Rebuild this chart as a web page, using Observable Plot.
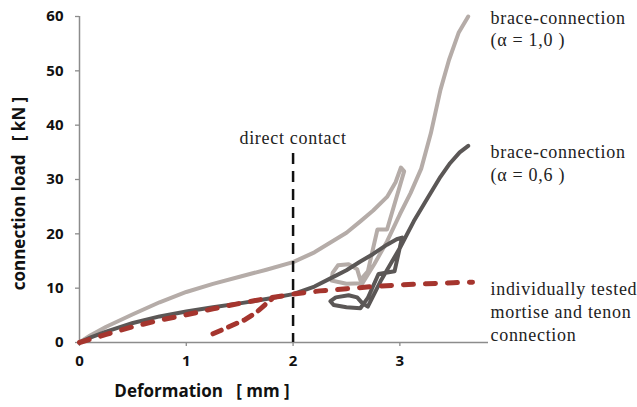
<!DOCTYPE html>
<html>
<head>
<meta charset="utf-8">
<script src="https://cdn.jsdelivr.net/npm/d3@7"></script>
<script src="https://cdn.jsdelivr.net/npm/@observablehq/plot@0.6"></script>
<style>
  html, body { margin: 0; padding: 0; background: #fff; }
  #chart svg { display: block; }
  g[font-family^="Liberation Serif"] text { letter-spacing: 0.7px; }
</style>
</head>
<body>
<div id="chart"></div>
<script>
// ---- data ----
// brace-connection (alpha = 1,0) — light grey
const lightX = [0, 0.1, 0.25, 0.5, 0.75, 1, 1.25, 1.5, 1.75, 2, 2.2, 2.35, 2.5, 2.63, 2.75, 2.88, 2.96, 3.01, 3.04,
  2.88, 2.79, 2.7, 2.63, 2.6, 2.52, 2.42, 2.37, 2.36, 2.5, 2.65,
  2.76, 2.88, 3.0, 3.1, 3.2, 3.29, 3.38, 3.46, 3.55, 3.64];
const lightY = [0, 1.3, 2.9, 5.2, 7.4, 9.3, 10.8, 12.1, 13.4, 14.8, 16.6, 18.4, 20.2, 22.3, 24.3, 26.8, 29.5, 32.2, 31.5,
  20.8, 20.8, 13.1, 11.5, 13.5, 14.4, 14.2, 12.8, 11.4, 10.8, 10.9,
  14.4, 18.6, 23.6, 27.5, 32.0, 38.5, 46.5, 52.0, 57.0, 60.0];

// brace-connection (alpha = 0,6) — dark grey
const darkX = [0, 0.1, 0.25, 0.5, 0.75, 1, 1.25, 1.5, 1.75, 2, 2.2, 2.35, 2.5, 2.63, 2.75, 2.88, 2.97, 3.02,
  3.0, 2.95, 2.8, 2.7, 2.63, 2.5, 2.38, 2.35, 2.4, 2.52, 2.6, 2.65, 2.7,
  2.82, 3.0, 3.13, 3.26, 3.38, 3.47, 3.56, 3.64];
const darkY = [0, 0.9, 2.0, 3.6, 4.8, 5.7, 6.5, 7.2, 8.0, 8.9, 10.3, 11.8, 13.3, 14.9, 16.3, 18.0, 19.0, 19.3,
  17.5, 13.1, 12.6, 8.2, 6.3, 6.5, 6.9, 7.6, 8.3, 8.7, 8.3, 7.2, 6.6,
  11.3, 17.4, 22.3, 26.6, 30.5, 33.0, 35.0, 36.2];

// individually tested mortise and tenon connection — red dashed
const redX = [0, 0.25, 0.5, 0.75, 1, 1.25, 1.5, 1.75, 2, 2.25, 2.5, 2.75, 3, 3.25, 3.5, 3.68];
const redY = [0, 1.5, 2.9, 4.1, 5.1, 6.2, 7.2, 8.1, 8.9, 9.5, 9.9, 10.3, 10.6, 10.8, 11.0, 11.1];
const red2X = [1.25, 1.4, 1.55, 1.66, 1.74, 1.8];
const red2Y = [1.6, 2.9, 4.2, 5.6, 7.0, 8.0];

// axes
const xTicks = [0, 1, 2, 3];
const yTicks = [0, 10, 20, 30, 40, 50, 60];
const xDomain = [0, 3.83];
const yDomain = [0, 60];

// annotations
const contactX = 2;
const contactTop = 34.8;
const contactText = "direct contact";
const labelTexts = [
  "brace-connection\n(α = 1,0 )",
  "brace-connection\n(α = 0,6 )",
  "individually tested\nmortise and tenon\nconnection"
];
const xTitle = "Deformation\u00a0\u00a0\u00a0[ mm ]";
const yTitle = "connection load\u00a0\u00a0\u00a0[ kN ]";

// ---- build ----
const pts = (xs, ys) => xs.map((x, i) => ({x, y: ys[i]}));
const light = pts(lightX, lightY);
const dark = pts(darkX, darkY);
const red = pts(redX, redY);
const red2 = pts(red2X, red2Y);

const serif = "Liberation Serif, Times New Roman, serif";
const sans = "Open Sans, Lato, sans-serif";
const axisGrey = "#8c8c8c";
const lineStyle = {strokeLinejoin: "round", strokeLinecap: "round"};

const chart = Plot.plot({
  width: 637,
  height: 407,
  marginLeft: 79,
  marginRight: 149,
  marginTop: 16,
  marginBottom: 65,
  style: {background: "#fff", fontFamily: sans},
  x: {domain: xDomain},
  y: {domain: yDomain},
  marks: [
    Plot.axisY({ticks: yTicks, tickFormat: "d", tickSize: 4, tickPadding: 12, stroke: axisGrey, strokeWidth: 1.3,
      fill: "#111", fontSize: 15, fontWeight: "bold", fontFamily: sans, label: null}),
    Plot.axisX({ticks: xTicks, tickFormat: "d", tickSize: 4, tickPadding: 9, stroke: axisGrey, strokeWidth: 1.3,
      fill: "#111", fontSize: 15, fontWeight: "bold", fontFamily: sans, label: null}),
    Plot.ruleY([0], {stroke: axisGrey, strokeWidth: 1.5}),
    Plot.ruleX([0], {stroke: axisGrey, strokeWidth: 1.5}),
    Plot.line(light, {x: "x", y: "y", stroke: "#b5aca8", strokeWidth: 4, ...lineStyle}),
    Plot.line(dark, {x: "x", y: "y", stroke: "#5b5756", strokeWidth: 4, ...lineStyle}),
    Plot.line(red, {x: "x", y: "y", stroke: "#a5352e", strokeWidth: 5, strokeDasharray: "10,12", ...lineStyle}),
    Plot.line(red2, {x: "x", y: "y", stroke: "#a5352e", strokeWidth: 5, strokeDasharray: "9,8", ...lineStyle}),
    Plot.ruleX([contactX], {y1: contactTop, y2: 0, stroke: "#111", strokeWidth: 2.5, strokeDasharray: "11,7"}),
    Plot.text([contactText], {x: contactX, y: contactTop, text: d => d, dy: -15.5, lineAnchor: "middle",
      textAnchor: "middle", fontFamily: serif, fontSize: 18, fill: "#222"}),
    Plot.text([labelTexts[0]], {x: xDomain[1], y: lightY[lightY.length - 1], text: d => d, dx: 2, dy: -8.3,
      lineAnchor: "top", textAnchor: "start", lineHeight: 1.24, fontFamily: serif, fontSize: 18, fill: "#222"}),
    Plot.text([labelTexts[1]], {x: xDomain[1], y: darkY[darkY.length - 1], text: d => d, dx: 2, dy: -3.4,
      lineAnchor: "top", textAnchor: "start", lineHeight: 1.24, fontFamily: serif, fontSize: 18, fill: "#222"}),
    Plot.text([labelTexts[2]], {x: xDomain[1], y: redY[redY.length - 1], text: d => d, dx: 2, dy: -3.6,
      lineAnchor: "top", textAnchor: "start", lineHeight: 1.27, fontFamily: serif, fontSize: 18, fill: "#222"}),
    Plot.text([yTitle], {frameAnchor: "left", text: d => d, rotate: -90, dx: -60, dy: 14, textAnchor: "middle",
      fontFamily: sans, fontSize: 17, fontWeight: "bold", fill: "#111"}),
    Plot.text([xTitle], {frameAnchor: "bottom", text: d => d, dx: -82, dy: 49, lineAnchor: "middle",
      textAnchor: "middle", fontFamily: sans, fontSize: 17, fontWeight: "bold", fill: "#111"})
  ]
});
document.getElementById("chart").appendChild(chart);
</script>
</body>
</html>
